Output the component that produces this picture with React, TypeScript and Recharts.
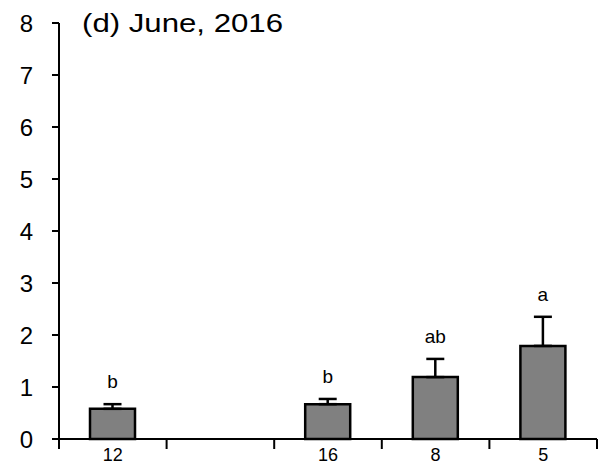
import { BarChart, Bar, XAxis, YAxis, ErrorBar } from "recharts";

const categories = ["12", "", "16", "8", "5"];
const means = [0.58, null, 0.67, 1.19, 1.79];
const errors = [0.09, null, 0.1, 0.35, 0.56];
const letters = ["b", "", "b", "ab", "a"];
const yTicks = [0, 1, 2, 3, 4, 5, 6, 7, 8];

const FONT = "'Liberation Sans', Arial, Helvetica, sans-serif";

const data = categories.map((name, i) => ({
  name,
  mean: means[i],
  err: errors[i] == null ? null : [0, errors[i]],
}));

// category label in the middle, tick marks on the band edges
const BoundaryTick = (props: any) => {
  const { x, y, payload, index, visibleTicksCount } = props;
  const half = payload && payload.offset ? payload.offset : 53.8;
  const last = index === (visibleTicksCount ?? categories.length) - 1;
  return (
    <g>
      <line x1={x - half} x2={x - half} y1={y - 10} y2={y} stroke="#000" strokeWidth={2} />
      {last && <line x1={x + half} x2={x + half} y1={y - 10} y2={y} stroke="#000" strokeWidth={2} />}
      <text x={x} y={y + 12} textAnchor="middle" fontSize={18} fontFamily={FONT} fill="#000">
        {payload.value}
      </text>
    </g>
  );
};

// significance letter above each error bar
const renderLetter = (props: any) => {
  const { x, y, width, height, value } = props;
  const i = means.indexOf(value);
  const v = means[i];
  const e = errors[i];
  if (i < 0 || v == null || e == null) return null;
  const top = y - (e * height) / v;
  return (
    <text x={x + width / 2} y={top - 16} textAnchor="middle" fontSize={19} fontFamily={FONT} fill="#000">
      {letters[i]}
    </text>
  );
};

export default function App() {
  return (
    <div style={{ position: "absolute", left: 0, top: 0, width: 606, height: 468, background: "#fff" }}>
      <BarChart width={606} height={468} data={data} margin={{ top: 23, right: 9, bottom: 0, left: 0 }}>
        <XAxis
          dataKey="name"
          height={29}
          axisLine={{ stroke: "#000", strokeWidth: 2 }}
          tickLine={false}
          tickSize={10}
          tickMargin={0}
          interval={0}
          tick={<BoundaryTick />}
        />
        <YAxis
          width={59}
          domain={[0, 8]}
          ticks={yTicks}
          interval={0}
          axisLine={{ stroke: "#000", strokeWidth: 2 }}
          tickLine={{ stroke: "#000", strokeWidth: 2 }}
          tickSize={7}
          tickMargin={19}
          tick={{ fill: "#000", fontSize: 24, fontFamily: FONT }}
        />
        <Bar
          dataKey="mean"
          barSize={45}
          fill="#808080"
          stroke="#000"
          strokeWidth={2.5}
          isAnimationActive={false}
          label={renderLetter}
        >
          <ErrorBar dataKey="err" width={9} stroke="#000" strokeWidth={2.5} direction="y" />
        </Bar>
      </BarChart>
      <svg width={606} height={468} style={{ position: "absolute", left: 0, top: 0, pointerEvents: "none" }}>
        <text x={82} y={32} fontSize={26} fontFamily={FONT} fill="#000" textLength={201} lengthAdjust="spacingAndGlyphs">
          (d) June, 2016
        </text>
      </svg>
    </div>
  );
}
